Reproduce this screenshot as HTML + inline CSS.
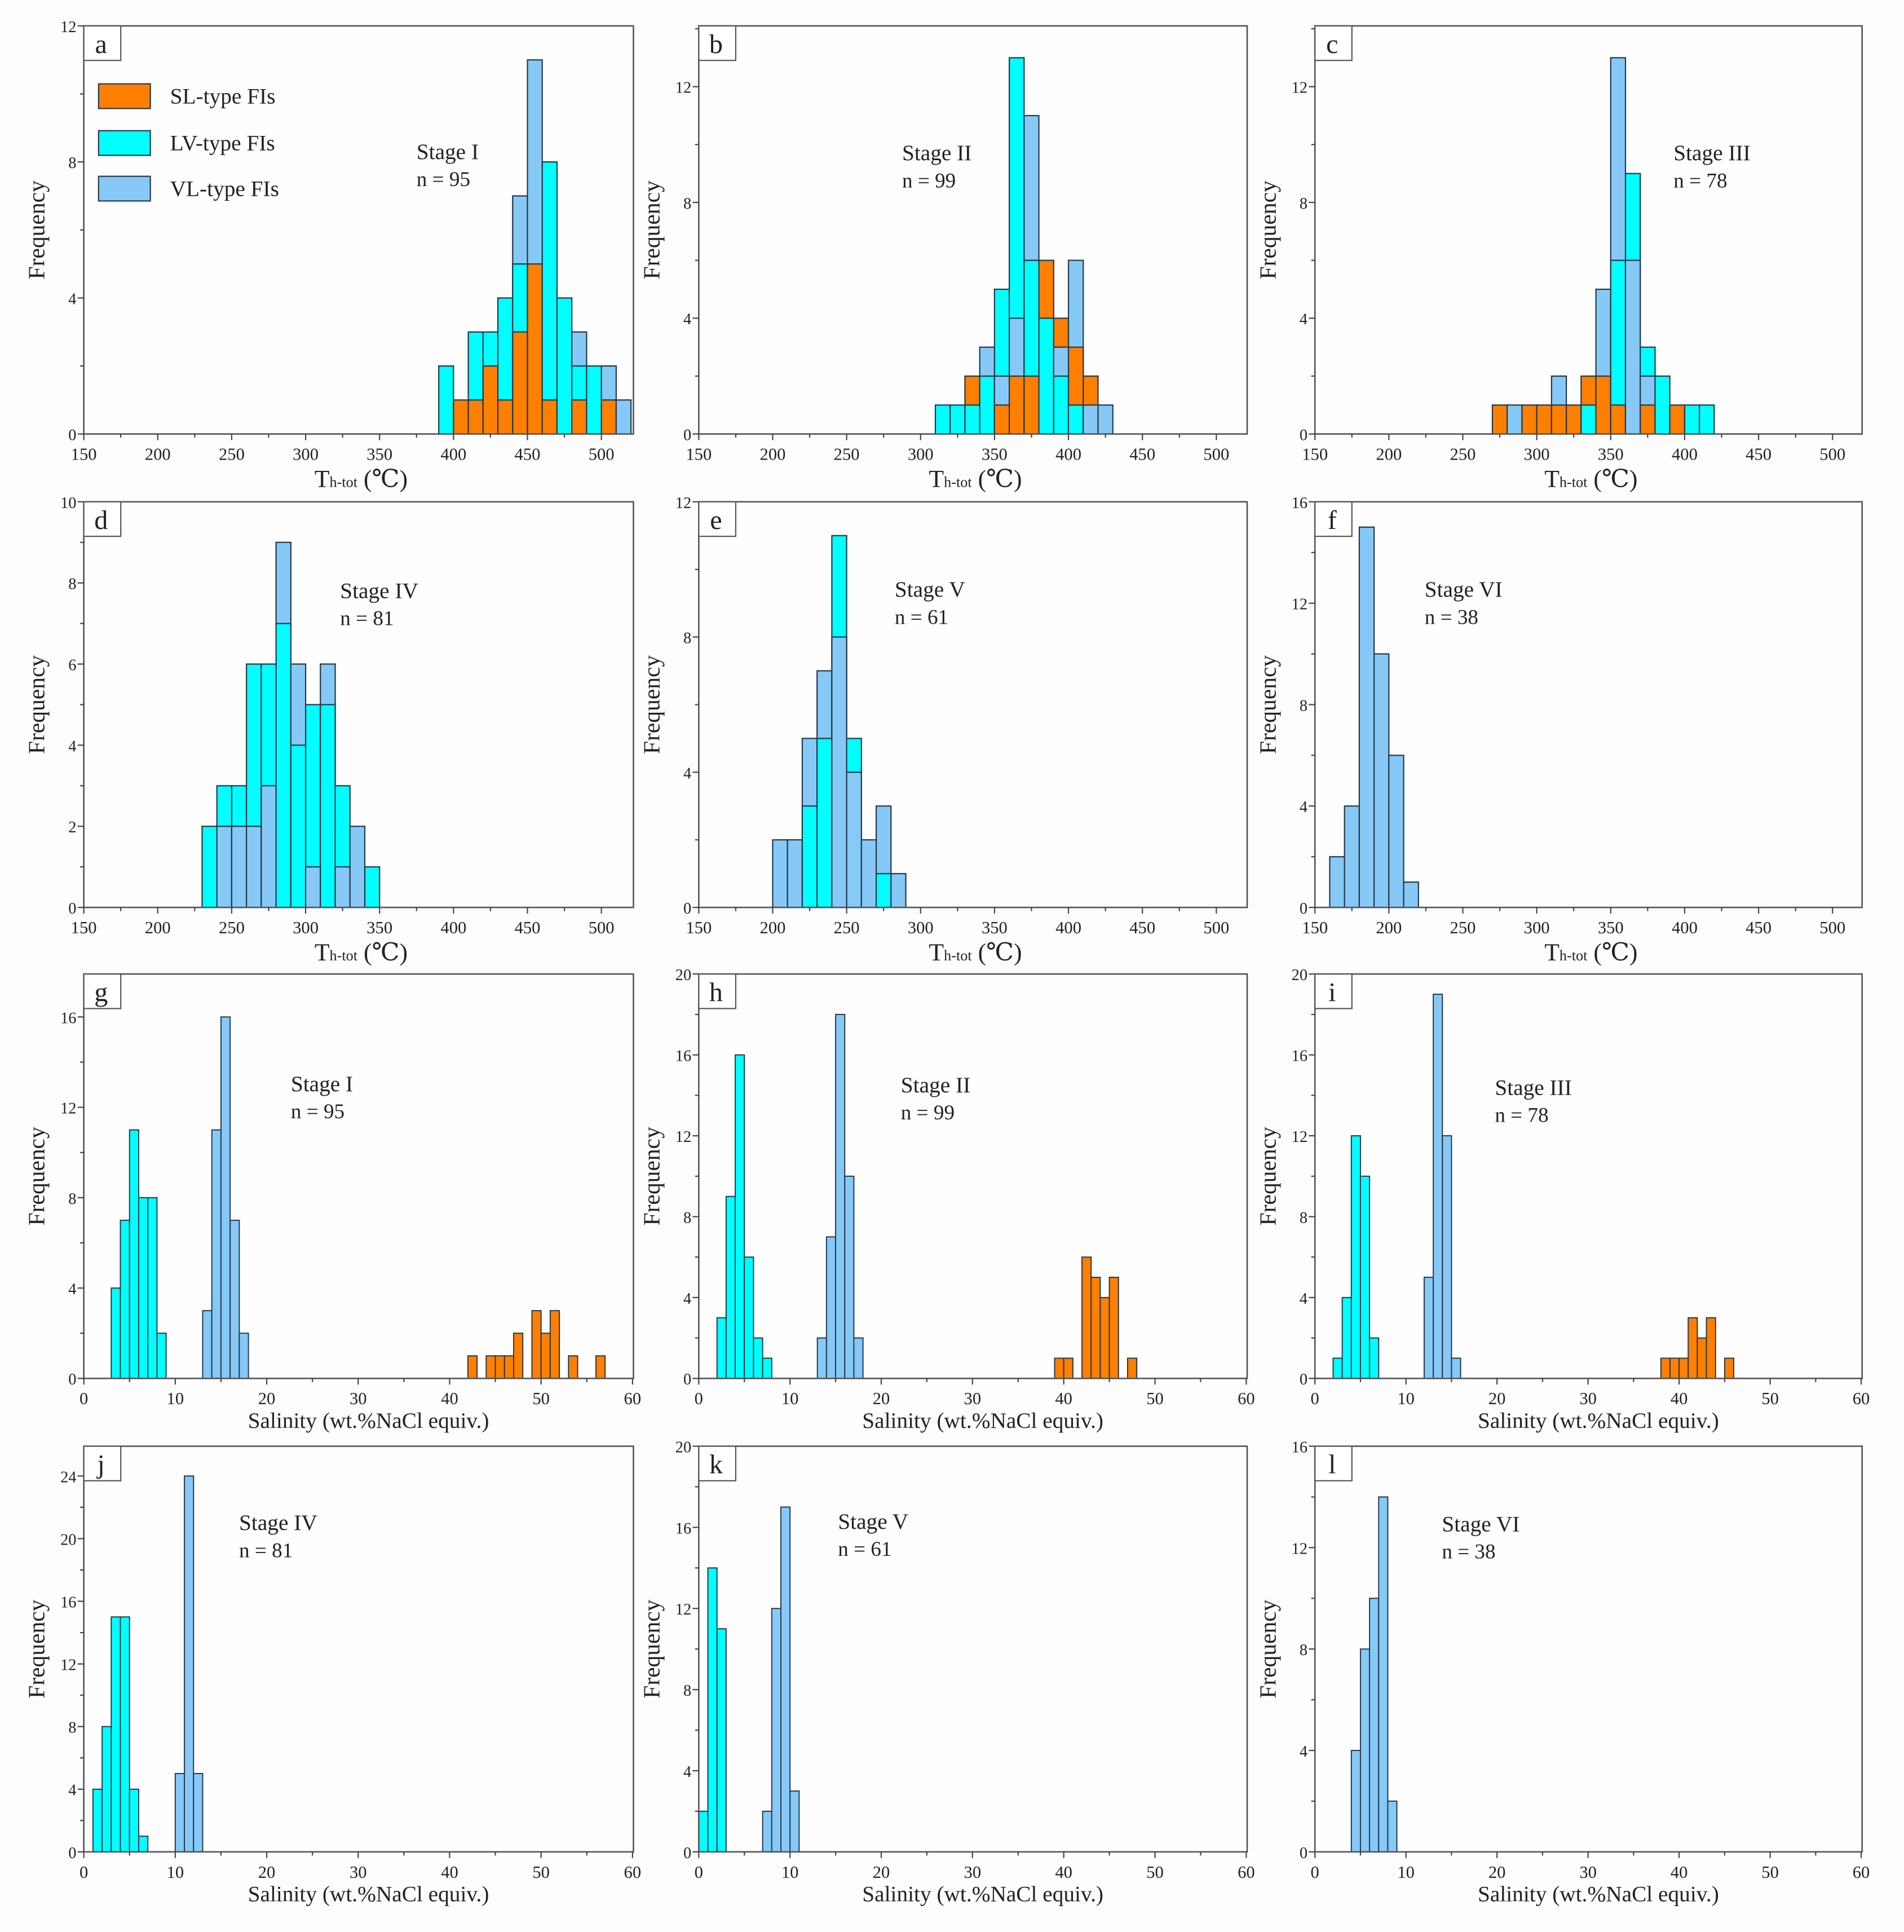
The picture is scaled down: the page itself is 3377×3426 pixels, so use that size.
<!DOCTYPE html>
<html><head><meta charset="utf-8"><title>Fluid inclusion histograms</title>
<style>
html,body{margin:0;padding:0;background:#fdfdfd;}
svg{display:block;}
text{font-family:"Liberation Serif","DejaVu Serif",serif;fill:#222;}
</style></head>
<body>
<svg id="fig" xmlns="http://www.w3.org/2000/svg" width="3377" height="3426" viewBox="0 0 1545 1567" preserveAspectRatio="none">
<rect x="0" y="0" width="1545" height="1567" fill="#fdfdfd"/>
</svg>
<script>
// ---- data (bin start values, counts per type) ----
const aBins=[390,400,410,420,430,440,450,460,470,480,490,500,510];
const aSL=[0,1,1,2,1,3,5,1,0,1,0,1,0];
const aLV=[2,0,3,3,4,5,0,8,4,2,2,0,0];
const aVL=[0,0,0,0,0,7,11,0,0,3,0,2,1];

const bBins=[310,320,330,340,350,360,370,380,390,400,410,420];
const bSL=[0,0,2,0,1,2,2,6,4,3,2,0];
const bLV=[1,1,1,2,5,13,6,4,2,1,0,0];
const bVL=[0,0,0,3,2,4,11,0,3,6,1,1];

const cBins=[270,280,290,300,310,320,330,340,350,360,370,380,390,400,410];
const cSL=[1,0,1,1,1,1,2,2,1,0,1,0,1,0,0];
const cLV=[0,0,0,0,0,0,1,0,6,9,3,2,0,1,1];
const cVL=[0,1,0,0,2,0,0,5,13,6,2,0,0,0,0];

const dBins=[230,240,250,260,270,280,290,300,310,320,330,340];
const dSL=[0,0,0,0,0,0,0,0,0,0,0,0];
const dLV=[2,3,3,6,6,7,4,5,5,3,0,1];
const dVL=[0,2,2,2,3,9,6,1,6,1,2,0];

const eBins=[200,210,220,230,240,250,260,270,280];
const eSL=[0,0,0,0,0,0,0,0,0];
const eLV=[0,0,3,5,11,5,0,1,0];
const eVL=[2,2,5,7,8,4,2,3,1];

const fBins=[160,170,180,190,200,210];
const fSL=[0,0,0,0,0,0];
const fLV=[0,0,0,0,0,0];
const fVL=[2,4,15,10,6,1];

const gBins=[3,4,5,6,7,8,13,14,15,16,17,42,44,45,46,47,49,50,51,53,56];
const gSL=[0,0,0,0,0,0,0,0,0,0,0,1,1,1,1,2,3,2,3,1,1];
const gLV=[4,7,11,8,8,2,0,0,0,0,0,0,0,0,0,0,0,0,0,0,0];
const gVL=[0,0,0,0,0,0,3,11,16,7,2,0,0,0,0,0,0,0,0,0,0];

const hBins=[2,3,4,5,6,7,13,14,15,16,17,39,40,42,43,44,45,47];
const hSL=[0,0,0,0,0,0,0,0,0,0,0,1,1,6,5,4,5,1];
const hLV=[3,9,16,6,2,1,0,0,0,0,0,0,0,0,0,0,0,0];
const hVL=[0,0,0,0,0,0,2,7,18,10,2,0,0,0,0,0,0,0];

const iBins=[2,3,4,5,6,12,13,14,15,38,39,40,41,42,43,45];
const iSL=[0,0,0,0,0,0,0,0,0,1,1,1,3,2,3,1];
const iLV=[1,4,12,10,2,0,0,0,0,0,0,0,0,0,0,0];
const iVL=[0,0,0,0,0,5,19,12,1,0,0,0,0,0,0,0];

const jBins=[1,2,3,4,5,6,10,11,12];
const jSL=[0,0,0,0,0,0,0,0,0];
const jLV=[4,8,15,15,4,1,0,0,0];
const jVL=[0,0,0,0,0,0,5,24,5];

const kBins=[0,1,2,7,8,9,10];
const kSL=[0,0,0,0,0,0,0];
const kLV=[2,14,11,0,0,0,0];
const kVL=[0,0,0,2,12,17,3];

const lBins=[4,5,6,7,8];
const lSL=[0,0,0,0,0];
const lLV=[0,0,0,0,0];
const lVL=[4,8,10,14,2];

const tempTicks=[150,200,250,300,350,400,450,500];
const salTicks=[0,10,20,30,40,50,60];

// ---- drawing ----
const NS='http://www.w3.org/2000/svg';
const svg=document.getElementById('fig');
const COL={sl:'#ff7f00',lv:'#00ffff',vl:'#86c9f7'};
function mk(tag,attrs,parent){const e=document.createElementNS(NS,tag);for(const k in attrs)e.setAttribute(k,attrs[k]);(parent||svg).appendChild(e);return e;}

const colsX=[[68,514],[567,1012],[1067,1511]];
const rowsY=[[21,352],[407,736],[790,1118],[1173,1502]];

function drawPanel(p){
  const [L,R]=colsX[p.col],[T,B]=rowsY[p.row];
  const g=mk('g',{});
  
  
  const temp=p.kind==='temp';
  const xmin=temp?150:0, xmax=temp?150+(R-L)/1.2:60.1;
  const X=v=>L+(v-xmin)/(xmax-xmin)*(R-L);
  const Y=v=>B-v/p.ymax*(B-T);
  const bw=temp?10:1;
  const bg=mk('rect',{x:L,y:T,width:R-L,height:B-T,fill:'#fefefe'},g);
  
  
  const clipId='clip'+p.letter;
  const cp=mk('clipPath',{id:clipId},g);
  mk('rect',{x:L,y:T,width:R-L,height:B-T},cp);
  const bars=mk('g',{'clip-path':'url(#'+clipId+')'},g);
  
  
  p.bins.forEach((b,i)=>{
    const segs=[['sl',p.sl[i]],['lv',p.lv[i]],['vl',p.vl[i]]].filter(s=>s[1]>0).sort((a,c)=>c[1]-a[1]);
    segs.forEach(s=>{
      const r=mk('rect',{x:X(b),y:Y(s[1]),width:X(b+bw)-X(b),height:B-Y(s[1]),fill:COL[s[0]],stroke:'#24384a','stroke-width':temp?1:0.9},bars);
      
      
    });
  });
  // frame
  const fr=mk('rect',{x:L,y:T,width:R-L,height:B-T,fill:'none',stroke:'#555','stroke-width':1.2},g);
  
  
  // x ticks
  const ticks=temp?tempTicks:salTicks;
  const minorStep=temp?25:5;
  for(let v=xmin;v<=xmax;v+=minorStep){
    const major=ticks.includes(v);
    mk('line',{x1:X(v),x2:X(v),y1:B,y2:B+(major?5:3),stroke:'#444','stroke-width':1},g);
  }
  ticks.forEach(v=>{
    const t=mk('text',{x:X(v),y:B+21,'text-anchor':'middle','font-size':14},g);
    t.textContent=v;
    
    
  });
  // y ticks
  for(let v=0;v<=p.ymax+1e-9;v+=p.ystep/2){
    const major=Math.abs(v/p.ystep-Math.round(v/p.ystep))<1e-6;
    mk('line',{x1:L,x2:L-(major?5:3),y1:Y(v),y2:Y(v),stroke:'#444','stroke-width':1},g);
    if(major){
      const t=mk('text',{x:L-6,y:Y(v)+5,'text-anchor':'end','font-size':13},g);
      t.textContent=v;
      
      
    }
  }
  // y title
  const yt=mk('text',{x:0,y:0,'text-anchor':'middle','font-size':19,transform:'translate('+(L-32)+','+((T+B)/2)+') rotate(-90)'},g);
  yt.textContent='Frequency';
  
  
  // x title
  if(temp){
    const xt=mk('text',{x:(L+R)/2+2,y:B+43,'text-anchor':'middle','font-size':20},g);
    
    
    const t1=mk('tspan',{},xt);t1.textContent='T';
    const t2=mk('tspan',{'font-size':12},xt);t2.textContent='h-tot';
    const t3=mk('tspan',{},xt);t3.textContent=' (\u2103)';
  } else {
    const xt=mk('text',{x:(L+R)/2+8,y:B+40,'text-anchor':'middle','font-size':18},g);
    xt.textContent='Salinity  (wt.%NaCl equiv.)';
    
    
  }
  // letter box
  const lb=mk('rect',{x:L,y:T,width:30,height:28,fill:'#fff',stroke:'#555','stroke-width':1},g);
  
  
  const lt=mk('text',{x:L+14,y:T+22,'text-anchor':'middle','font-size':22},g);
  lt.textContent=p.letter;
  
  
  // stage annotation
  const s1=mk('text',{x:p.sx,y:p.sy,'font-size':18},g);
  s1.textContent=p.stage;
  
  
  const s2=mk('text',{x:p.sx,y:p.sy+22,'font-size':17},g);
  s2.textContent='n = '+p.n;
  
  
}

const panels=[
 {letter:'a',row:0,col:0,kind:'temp',ymax:12,ystep:4,bins:aBins,sl:aSL,lv:aLV,vl:aVL,stage:'Stage I',n:95,sx:338,sy:129},
 {letter:'b',row:0,col:1,kind:'temp',ymax:14.1,ystep:4,bins:bBins,sl:bSL,lv:bLV,vl:bVL,stage:'Stage II',n:99,sx:732,sy:130},
 {letter:'c',row:0,col:2,kind:'temp',ymax:14.1,ystep:4,bins:cBins,sl:cSL,lv:cLV,vl:cVL,stage:'Stage III',n:78,sx:1358,sy:130},
 {letter:'d',row:1,col:0,kind:'temp',ymax:10,ystep:2,bins:dBins,sl:dSL,lv:dLV,vl:dVL,stage:'Stage IV',n:81,sx:276,sy:485},
 {letter:'e',row:1,col:1,kind:'temp',ymax:12,ystep:4,bins:eBins,sl:eSL,lv:eLV,vl:eVL,stage:'Stage V',n:61,sx:726,sy:484},
 {letter:'f',row:1,col:2,kind:'temp',ymax:16,ystep:4,bins:fBins,sl:fSL,lv:fLV,vl:fVL,stage:'Stage VI',n:38,sx:1156,sy:484},
 {letter:'g',row:2,col:0,kind:'sal',ymax:17.9,ystep:4,bins:gBins,sl:gSL,lv:gLV,vl:gVL,stage:'Stage I',n:95,sx:236,sy:885},
 {letter:'h',row:2,col:1,kind:'sal',ymax:20,ystep:4,bins:hBins,sl:hSL,lv:hLV,vl:hVL,stage:'Stage II',n:99,sx:731,sy:886},
 {letter:'i',row:2,col:2,kind:'sal',ymax:20,ystep:4,bins:iBins,sl:iSL,lv:iLV,vl:iVL,stage:'Stage III',n:78,sx:1213,sy:888},
 {letter:'j',row:3,col:0,kind:'sal',ymax:25.9,ystep:4,bins:jBins,sl:jSL,lv:jLV,vl:jVL,stage:'Stage IV',n:81,sx:194,sy:1241},
 {letter:'k',row:3,col:1,kind:'sal',ymax:20,ystep:4,bins:kBins,sl:kSL,lv:kLV,vl:kVL,stage:'Stage V',n:61,sx:680,sy:1240},
 {letter:'l',row:3,col:2,kind:'sal',ymax:16,ystep:4,bins:lBins,sl:lSL,lv:lLV,vl:lVL,stage:'Stage VI',n:38,sx:1170,sy:1242}
];
panels.forEach(drawPanel);

// legend in panel a
const legendLabels=['SL-type FIs','LV-type FIs','VL-type FIs'];
const legendKeys=['sl','lv','vl'];
const lg=mk('g',{});


legendKeys.forEach((k,i)=>{
  const y=[68,106,143][i];
  const r=mk('rect',{x:80,y:y,width:42,height:20,fill:COL[k],stroke:'#24384a','stroke-width':1},lg);
  
  
  const t=mk('text',{x:138,y:y+16,'font-size':18},lg);
  t.textContent=legendLabels[i];
  
  
});
</script>
</body></html>
